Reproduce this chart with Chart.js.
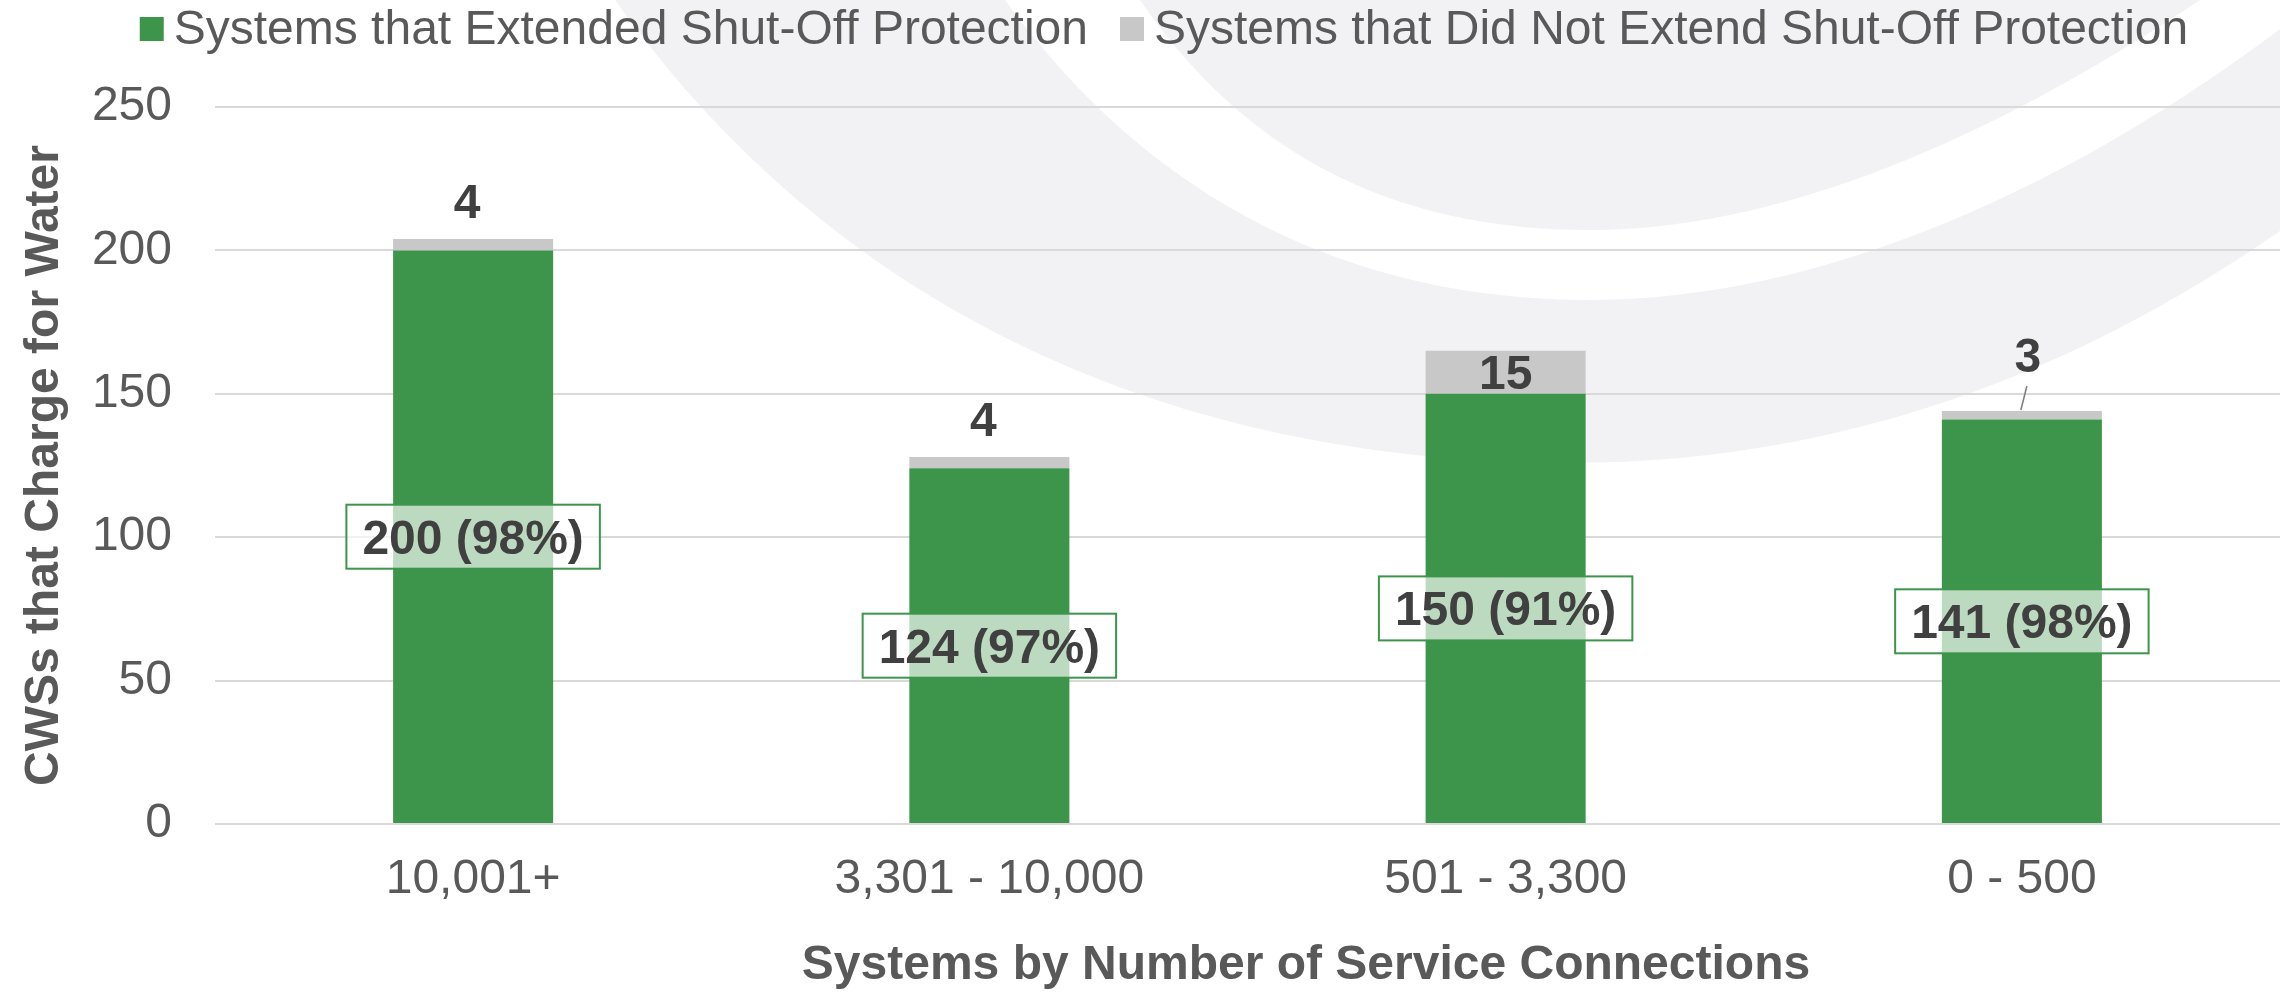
<!DOCTYPE html>
<html>
<head>
<meta charset="utf-8">
<script src="https://cdn.jsdelivr.net/npm/chart.js@4.4.1/dist/chart.umd.min.js"></script>
<style>
  html, body { margin: 0; padding: 0; background: #fff; }
  canvas { display: block; }
</style>
</head>
<body>
<canvas id="chart" width="2280" height="995"></canvas>
<script>
const categories = ["10,001+", "3,301 - 10,000", "501 - 3,300", "0 - 500"];
const extended = [200, 124, 150, 141];
const notExtended = [4, 4, 15, 3];
const yTicks = [0, 50, 100, 150, 200, 250];
const seriesNames = [
  "Systems that Extended Shut-Off Protection",
  "Systems that Did Not Extend Shut-Off Protection"
];
const xTitle = "Systems by Number of Service Connections";
const yTitle = "CWSs that Charge for Water";

const FONT = "'Liberation Sans', Arial, sans-serif";
const GREEN = "#3d954b";
const GRAY = "#c8c8c8";
const TEXT = "#595959";
const DARK = "#404040";
const WASH = "#f2f2f4";

// label of the last gray segment sits on a short callout line
const calloutLeader = [false, false, false, true];

// faint swoosh behind the plot
const watermark = {
  id: "watermark",
  beforeDraw(chart) {
    const ctx = chart.ctx;
    ctx.save();
    ctx.fillStyle = "#fff";
    ctx.fillRect(0, 0, chart.width, chart.height);

    ctx.fillStyle = WASH;
    ctx.beginPath();
    ctx.moveTo(615, 0);
    ctx.bezierCurveTo(850, 330, 1200, 463, 1570, 463);
    ctx.bezierCurveTo(1900, 463, 2150, 330, 2330, 195);
    ctx.lineTo(2330, -10);
    ctx.lineTo(615, -10);
    ctx.closePath();
    ctx.fill();

    ctx.fillStyle = "#fff";
    ctx.beginPath();
    ctx.moveTo(1005, 0);
    ctx.bezierCurveTo(1150, 200, 1350, 300, 1590, 300);
    ctx.bezierCurveTo(1850, 300, 2120, 160, 2330, -10);
    ctx.lineTo(1005, -10);
    ctx.closePath();
    ctx.fill();

    ctx.fillStyle = WASH;
    ctx.beginPath();
    ctx.moveTo(1140, 0);
    ctx.bezierCurveTo(1250, 160, 1400, 230, 1590, 230);
    ctx.bezierCurveTo(1800, 230, 2020, 120, 2200, 0);
    ctx.lineTo(2200, -10);
    ctx.lineTo(1140, -10);
    ctx.closePath();
    ctx.fill();
    ctx.restore();
  }
};

// legend and x title drawn by hand so spacing matches the original
const frameText = {
  id: "frameText",
  afterDraw(chart) {
    const ctx = chart.ctx;
    const box = 24, gapText = 10, gapItem = 32, cy = 29;
    ctx.save();
    ctx.font = `48px ${FONT}`;
    ctx.textBaseline = "middle";
    ctx.textAlign = "left";
    const items = chart.data.datasets.map(ds => ({
      text: ds.label, color: ds.backgroundColor, w: ctx.measureText(ds.label).width
    }));
    const total = items.reduce((s, it) => s + box + gapText + it.w, 0) + gapItem * (items.length - 1);
    let x = 1164 - total / 2;
    items.forEach(it => {
      ctx.fillStyle = it.color;
      ctx.fillRect(x, cy - box / 2, box, box);
      x += box + gapText;
      ctx.fillStyle = TEXT;
      ctx.fillText(it.text, x, cy + 2);
      x += it.w + gapItem;
    });

    ctx.font = `bold 48px ${FONT}`;
    ctx.textAlign = "center";
    ctx.fillText(xTitle, 1306, chart.height - 29);
    ctx.restore();
  }
};

const barLabels = {
  id: "barLabels",
  afterDatasetsDraw(chart) {
    const ctx = chart.ctx;
    const greenBars = chart.getDatasetMeta(0).data;
    const grayBars = chart.getDatasetMeta(1).data;
    ctx.save();
    ctx.font = `bold 48px ${FONT}`;
    ctx.textAlign = "center";
    ctx.textBaseline = "alphabetic";

    greenBars.forEach((bar, i) => {
      const total = extended[i] + notExtended[i];
      const text = `${extended[i]} (${Math.round(extended[i] / total * 100)}%)`;
      const cy = (bar.y + bar.base) / 2;
      const w = ctx.measureText(text).width + 32;
      const h = 64;
      ctx.fillStyle = "rgba(255,255,255,0.65)";
      ctx.fillRect(bar.x - w / 2, cy - h / 2, w, h);
      ctx.strokeStyle = GREEN;
      ctx.lineWidth = 2;
      ctx.strokeRect(bar.x - w / 2, cy - h / 2, w, h);
      ctx.fillStyle = DARK;
      ctx.fillText(text, bar.x, cy + 17);
    });

    grayBars.forEach((bar, i) => {
      const text = String(notExtended[i]);
      const segH = bar.base - bar.y;
      ctx.fillStyle = DARK;
      if (segH > 40) {
        ctx.fillText(text, bar.x, (bar.y + bar.base) / 2 + 17);
      } else if (calloutLeader[i]) {
        ctx.fillText(text, bar.x + 6, bar.y - 39);
        ctx.strokeStyle = "#7f7f7f";
        ctx.lineWidth = 1.5;
        ctx.beginPath();
        ctx.moveTo(bar.x + 5, bar.y - 25);
        ctx.lineTo(bar.x - 1, bar.y - 1);
        ctx.stroke();
      } else {
        ctx.fillText(text, bar.x - 6, bar.y - 21);
      }
    });
    ctx.restore();
  }
};

new Chart(document.getElementById("chart"), {
  type: "bar",
  data: {
    labels: categories,
    datasets: [
      { label: seriesNames[0], data: extended, backgroundColor: GREEN, borderWidth: 0 },
      { label: seriesNames[1], data: notExtended, backgroundColor: GRAY, borderWidth: 0 }
    ]
  },
  options: {
    responsive: false,
    animation: false,
    datasets: { bar: { categoryPercentage: 0.5, barPercentage: 0.62 } },
    layout: { padding: { top: 107, left: 16, right: 0, bottom: 0 } },
    plugins: {
      legend: { display: false },
      tooltip: { enabled: false }
    },
    scales: {
      x: {
        stacked: true,
        afterFit: axis => { axis.height = 171; },
        grid: { display: false, drawTicks: false },
        border: { display: false },
        ticks: { font: { size: 48, family: FONT }, color: TEXT, padding: 27 },
        title: { display: false }
      },
      y: {
        stacked: true,
        min: 0,
        max: 250,
        afterFit: axis => { axis.width = 199; },
        afterBuildTicks: axis => { axis.ticks = yTicks.map(v => ({ value: v })); },
        grid: { color: "#d9d9d9", lineWidth: 2, drawTicks: false },
        border: { display: false },
        ticks: { font: { size: 48, family: FONT }, color: TEXT, padding: 43 },
        title: {
          display: true,
          text: yTitle,
          font: { size: 48, weight: "bold", family: FONT },
          color: TEXT,
          padding: 0
        }
      }
    }
  },
  plugins: [watermark, frameText, barLabels]
});
</script>
</body>
</html>
